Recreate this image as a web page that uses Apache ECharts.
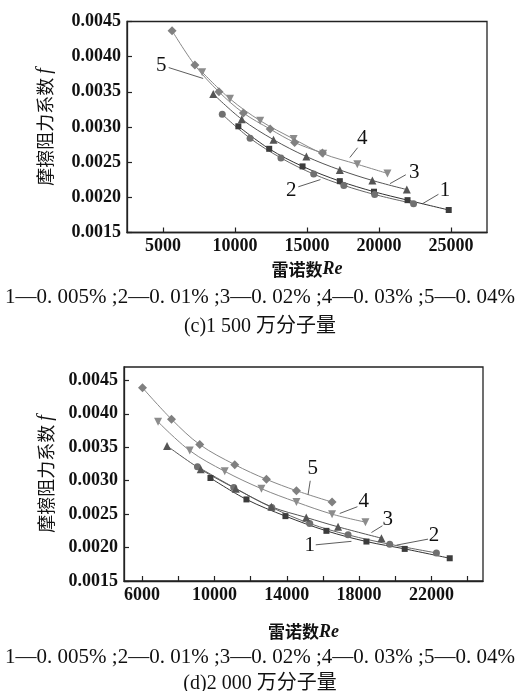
<!DOCTYPE html>
<html><head><meta charset="utf-8">
<script src="https://cdn.jsdelivr.net/npm/echarts@6/dist/echarts.min.js"></script>
<style>html,body{margin:0;padding:0;background:#fff}#c{width:520px;height:691px}</style>
</head><body><div id="c"></div>
<script>
// ---- tick labels ----
const fTicks = [0.0015, 0.0020, 0.0025, 0.0030, 0.0035, 0.0040, 0.0045];
const reTicksC = [5000, 10000, 15000, 20000, 25000];
const reTicksD = [6000, 10000, 14000, 18000, 22000];
const reMinorD = [6000, 8000, 10000, 12000, 14000, 16000, 18000, 20000, 22000, 24000];

// ---- (c) 1500万分子量 ----
const cRe1 = [10233, 12375, 14691, 17279, 19651, 21982, 24842];
const cF1  = [0.00301, 0.00269, 0.00244, 0.00223, 0.00208, 0.00196, 0.00182];
const cRe2 = [9116, 11049, 13191, 15465, 17558, 19700, 22400];
const cF2  = [0.00318, 0.00284, 0.00256, 0.00233, 0.00217, 0.00204, 0.00191];
const cRe3 = [8488, 10470, 12675, 14956, 17279, 19540, 21933];
const cF3  = [0.00347, 0.00311, 0.00282, 0.00258, 0.00239, 0.00224, 0.00211];
const cRe4 = [7721, 9654, 11747, 14070, 16121, 18493, 20586];
const cF4  = [0.00378, 0.00340, 0.00309, 0.00283, 0.00262, 0.00247, 0.00234];
const cRe5 = [5628, 7212, 8886, 10581, 12444, 14140, 16072];
const cF5  = [0.00437, 0.00388, 0.00350, 0.00320, 0.00297, 0.00278, 0.00263];

// ---- (d) 2000万分子量 ----
const dRe1 = [9781, 11771, 13927, 16193, 18405, 20522, 23010];
const dF1  = [0.00304, 0.00272, 0.00247, 0.00225, 0.00209, 0.00198, 0.00184];
const dRe2 = [9062, 11069, 13170, 15270, 17388, 19693, 22274];
const dF2  = [0.00321, 0.00290, 0.00260, 0.00236, 0.00219, 0.00205, 0.00192];
const dRe3 = [7382, 9245, 11180, 13153, 15077, 16835, 19234];
const dF3  = [0.00352, 0.00317, 0.00288, 0.00261, 0.00245, 0.00231, 0.00214];
const dRe4 = [6884, 8637, 10572, 12600, 14535, 16503, 18350];
const dF4  = [0.00388, 0.00345, 0.00314, 0.00288, 0.00268, 0.00250, 0.00238];
const dRe5 = [6022, 7625, 9190, 11124, 12877, 14535, 16503];
const dF5  = [0.00439, 0.00392, 0.00354, 0.00324, 0.00302, 0.00285, 0.00268];

// ---- curve labels: text, text position, line start, arrow tip (data coords) ----
const cLabels = ['5', '2', '4', '3', '1'];
const cLabelAt = [[4886, 0.00387], [13907, 0.00210], [18840, 0.002836], [22440, 0.00236], [24582, 0.00210]];
const cLineFrom = [[5395, 0.003845], [14396, 0.00215], [18512, 0.002705], [21861, 0.002321], [24128, 0.002043]];
const cLineTo = [[7788, 0.00369], [15931, 0.002252], [17975, 0.002566], [20766, 0.002195], [23026, 0.00191]];
const dLabels = ['5', '4', '3', '2', '1'];
const dLabelAt = [[15436, 0.003182], [18255, 0.002691], [19582, 0.002416], [22141, 0.002176], [15270, 0.002026]];
const dLineFrom = [[15298, 0.002999], [17907, 0.002611], [19289, 0.002326], [21810, 0.002126], [15602, 0.002041]];
const dLineTo = [[15176, 0.002791], [16929, 0.00251], [18681, 0.002225], [20063, 0.002036], [17576, 0.002093]];

const legendText = '1—0. 005% ;2—0. 01% ;3—0. 02% ;4—0. 03% ;5—0. 04%';
const captionC = '(c)1 500 万分子量';
const captionD = '(d)2 000 万分子量';

const SERIF = '"Liberation Serif", "Times New Roman", serif';
const CJK = '"Noto Sans CJK SC", "Liberation Serif", serif';
const MIXED = '"Liberation Serif", "Noto Sans CJK SC", serif';

const styles = [
  { symbol: 'rect', size: 6, color: '#3c3c3c', line: '#333333', rotate: 0 },
  { symbol: 'circle', size: 7, color: '#707070', line: '#666666', rotate: 0 },
  { symbol: 'triangle', size: 8, color: '#555555', line: '#555555', rotate: 0 },
  { symbol: 'triangle', size: 8, color: '#8c8c8c', line: '#888888', rotate: 180 },
  { symbol: 'diamond', size: 9, color: '#808080', line: '#888888', rotate: 0 }
];

function pairs(xs, ys) { return xs.map((x, i) => [x, ys[i]]); }

function makeSeries(gi, sets, labels, at, from, to) {
  const out = sets.map((s, i) => ({
    type: 'line', xAxisIndex: gi, yAxisIndex: gi,
    data: pairs(s[0], s[1]),
    smooth: 0.35,
    symbol: styles[i].symbol, symbolSize: styles[i].size, symbolRotate: styles[i].rotate,
    showAllSymbol: true,
    itemStyle: { color: styles[i].color },
    lineStyle: { color: styles[i].line, width: 1 },
    z: 3
  }));
  out.push({
    type: 'line', xAxisIndex: gi, yAxisIndex: gi, data: [], silent: true,
    markLine: {
      silent: true, symbol: ['none', 'arrow'], symbolSize: [0, 7], precision: 6,
      label: { show: false },
      lineStyle: { color: '#333', width: 0.8, type: 'solid' },
      data: from.map((f, i) => [{ coord: f }, { coord: to[i] }])
    },
    markPoint: {
      silent: true, symbol: 'circle', symbolSize: 1,
      itemStyle: { color: 'rgba(0,0,0,0)' },
      label: { show: true, position: 'inside', formatter: '{b}', color: '#111', fontSize: 21, fontFamily: SERIF },
      data: labels.map((t, i) => ({ name: t, coord: at[i] }))
    }
  });
  return out;
}

const tickLabel = { fontFamily: SERIF, fontWeight: 'bold', fontSize: 18, color: '#111' };
const yName = '{a|摩擦阻力系数 }{b|f}';
const xName = '{a|雷诺数}{b|Re}';

function yAxis(gi, max, gap) {
  return {
    type: 'value', gridIndex: gi, min: 0.0015, max: max,
    axisLine: { show: true, lineStyle: { color: '#222', width: 1.3 } },
    axisTick: { show: true, inside: true, length: 5, customValues: fTicks, lineStyle: { color: '#222', width: 1.2 } },
    axisLabel: Object.assign({ customValues: fTicks, margin: 6, formatter: v => v.toFixed(4) }, tickLabel),
    splitLine: { show: false },
    name: yName, nameLocation: 'middle', nameRotate: 90, nameGap: gap,
    nameTextStyle: { rich: {
      a: { fontFamily: CJK, fontSize: 18, color: '#111' },
      b: { fontFamily: SERIF, fontStyle: 'italic', fontSize: 20, color: '#111' } } }
  };
}
function xAxis(gi, min, max, labels, ticks, gap) {
  return {
    type: 'value', gridIndex: gi, min: min, max: max,
    axisLine: { show: true, lineStyle: { color: '#222', width: 1.3 } },
    axisTick: { show: true, inside: true, length: 5, customValues: ticks, lineStyle: { color: '#222', width: 1.2 } },
    axisLabel: Object.assign({ customValues: labels, margin: 5, formatter: v => String(v) }, tickLabel),
    splitLine: { show: false },
    name: xName, nameLocation: 'middle', nameGap: gap,
    nameTextStyle: { rich: {
      a: { fontFamily: CJK, fontWeight: 'bold', fontSize: 17, color: '#111' },
      b: { fontFamily: SERIF, fontWeight: 'bold', fontStyle: 'italic', fontSize: 18, color: '#111' } } }
  };
}

const chart = echarts.init(document.getElementById('c'), null, { renderer: 'canvas' });
const seriesC = makeSeries(0,
  [[cRe1, cF1], [cRe2, cF2], [cRe3, cF3], [cRe4, cF4], [cRe5, cF5]],
  cLabels, cLabelAt, cLineFrom, cLineTo);
const seriesD = makeSeries(1,
  [[dRe1, dF1], [dRe2, dF2], [dRe3, dF3], [dRe4, dF4], [dRe5, dF5]],
  dLabels, dLabelAt, dLineFrom, dLineTo);

chart.setOption({
  animation: false,
  backgroundColor: '#fff',
  grid: [
    { left: 127, top: 21.5, width: 360, height: 211, show: true, borderColor: '#222', borderWidth: 1.3, backgroundColor: 'transparent' },
    { left: 124, top: 367, width: 359, height: 214, show: true, borderColor: '#222', borderWidth: 1.3, backgroundColor: 'transparent' }
  ],
  xAxis: [
    xAxis(0, 2500, 27500, reTicksC, reTicksC, 28),
    xAxis(1, 5000, 24850, reTicksD, reMinorD, 42)
  ],
  yAxis: [
    yAxis(0, 0.0045, 72),
    yAxis(1, 0.0047, 68)
  ],
  series: seriesC.concat(seriesD),
  graphic: [
    { type: 'text', left: 'center', top: 287, style: { text: legendText, font: '21px ' + SERIF, fill: '#111' } },
    { type: 'text', left: 'center', top: 317, style: { text: captionC, font: '20px ' + MIXED, fill: '#111' } },
    { type: 'text', left: 'center', top: 647, style: { text: legendText, font: '21px ' + SERIF, fill: '#111' } },
    { type: 'text', left: 'center', top: 674, style: { text: captionD, font: '20px ' + MIXED, fill: '#111' } }
  ]
});
</script></body></html>
